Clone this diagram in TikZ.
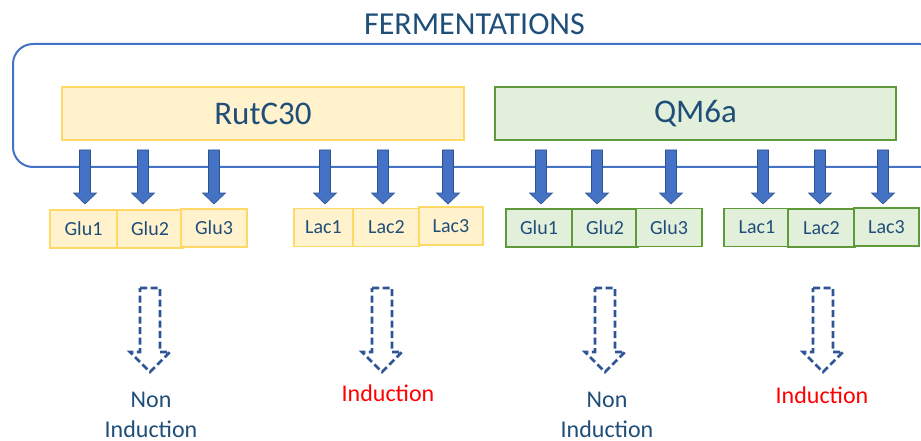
\documentclass[tikz,border=0pt]{standalone}
\usepackage{fontspec}
\setmainfont{Carlito}
\definecolor{frameblue}{HTML}{4472C4}
\definecolor{arrowedge}{HTML}{2F528F}
\definecolor{dashblue}{HTML}{2F5597}
\definecolor{txtblue}{HTML}{1F4E79}
\definecolor{yfill}{HTML}{FFF2CC}
\definecolor{yedge}{HTML}{FFD966}
\definecolor{gfill}{HTML}{E2EFDA}
\definecolor{gedge}{HTML}{5E9A3A}
\tikzset{
  strainY/.style={draw=yedge, fill=yfill, line width=1.3pt, text=txtblue, font=\fontsize{33}{38}\selectfont, inner sep=0pt},
  strainG/.style={draw=gedge, fill=gfill, line width=1.3pt, text=txtblue, font=\fontsize{33}{38}\selectfont, inner sep=0pt},
  sampY/.style={draw=yedge, fill=yfill, line width=1.3pt, text=txtblue, font=\fontsize{20}{24}\selectfont, minimum height=38pt, inner sep=0pt},
  sampG/.style={draw=gedge, fill=gfill, line width=1.3pt, text=txtblue, font=\fontsize{20}{24}\selectfont, minimum height=38pt, inner sep=0pt},
  solidarr/.pic={\path[fill=frameblue, draw=arrowedge, line width=0.6pt]
     (-5.5,0) -- (5.5,0) -- (5.5,43) -- (11.5,43) -- (0,54) -- (-11.5,43) -- (-5.5,43) -- cycle;},
  hollowarr/.pic={\draw[dashblue, line width=2.8pt, dash pattern=on 7pt off 3.5pt]
     (-10,0) -- (10,0) -- (10,64) -- (20,64) -- (0,84) -- (-20,64) -- (-10,64) -- cycle;},
  outcome/.style={font=\fontsize{24}{30}\selectfont, align=center, inner sep=0pt, anchor=north}
}
\begin{document}
\begin{tikzpicture}[x=1pt,y=-1pt]
\useasboundingbox (0,0) rectangle (921,441);
\clip (0,0) rectangle (921,441);
\fill[white] (0,0) rectangle (921,441);
% title
\node[anchor=base, text=txtblue, font=\fontsize{32}{38}\selectfont, inner sep=0pt] (title) at (474.5,35) {FERMENTATIONS};
% frame
\draw[frameblue, line width=2pt, rounded corners=20pt] (13,44) rectangle (940,167);
\node (frame) at (476,105) {};
% strains
\node[strainY, minimum width=402pt, minimum height=53pt] (rut) at (263,113.5) {RutC30};
\node[strainG, minimum width=401pt, minimum height=53pt] (qm) at (695.5,113.5) {QM6a};
% solid arrows
\foreach \x in {85,143,214,325,383,448,541,597,671,763,820,883}
  \pic at (\x,150) {solidarr};
% samples RutC30
\node[sampY, minimum width=67pt] (yg1) at (83.5,229) {Glu1};
\node[sampY, minimum width=66pt] (yg2) at (150,229) {Glu2};
\node[sampY, minimum width=66pt] (yg3) at (214,228) {Glu3};
\node[sampY, minimum width=59pt] (yl1) at (323.5,227.5) {Lac1};
\node[sampY, minimum width=67pt] (yl2) at (386.5,227.5) {Lac2};
\node[sampY, minimum width=64pt] (yl3) at (451,226) {Lac3};
% samples QM6a
\node[sampG, minimum width=66pt] (gg1) at (539,228) {Glu1};
\node[sampG, minimum width=66pt] (gg2) at (605,228) {Glu2};
\node[sampG, minimum width=66pt] (gg3) at (669,227.5) {Glu3};
\node[sampG, minimum width=66pt] (gl1) at (757,227.5) {Lac1};
\node[sampG, minimum width=67pt] (gl2) at (821.5,228) {Lac2};
\node[sampG, minimum width=65pt] (gl3) at (886.5,227) {Lac3};
% hollow dashed arrows
\foreach \x in {150,382,605,823}
  \pic at (\x,288) {hollowarr};
% outcomes
\node[outcome, text=txtblue] (o1) at (151,392) {Non\\Induction};
\node[outcome, text=red] (o2) at (388,385) {Induction};
\node[outcome, text=txtblue] (o3) at (607,392) {Non\\Induction};
\node[outcome, text=red] (o4) at (822,387) {Induction};
\end{tikzpicture}
\end{document}
